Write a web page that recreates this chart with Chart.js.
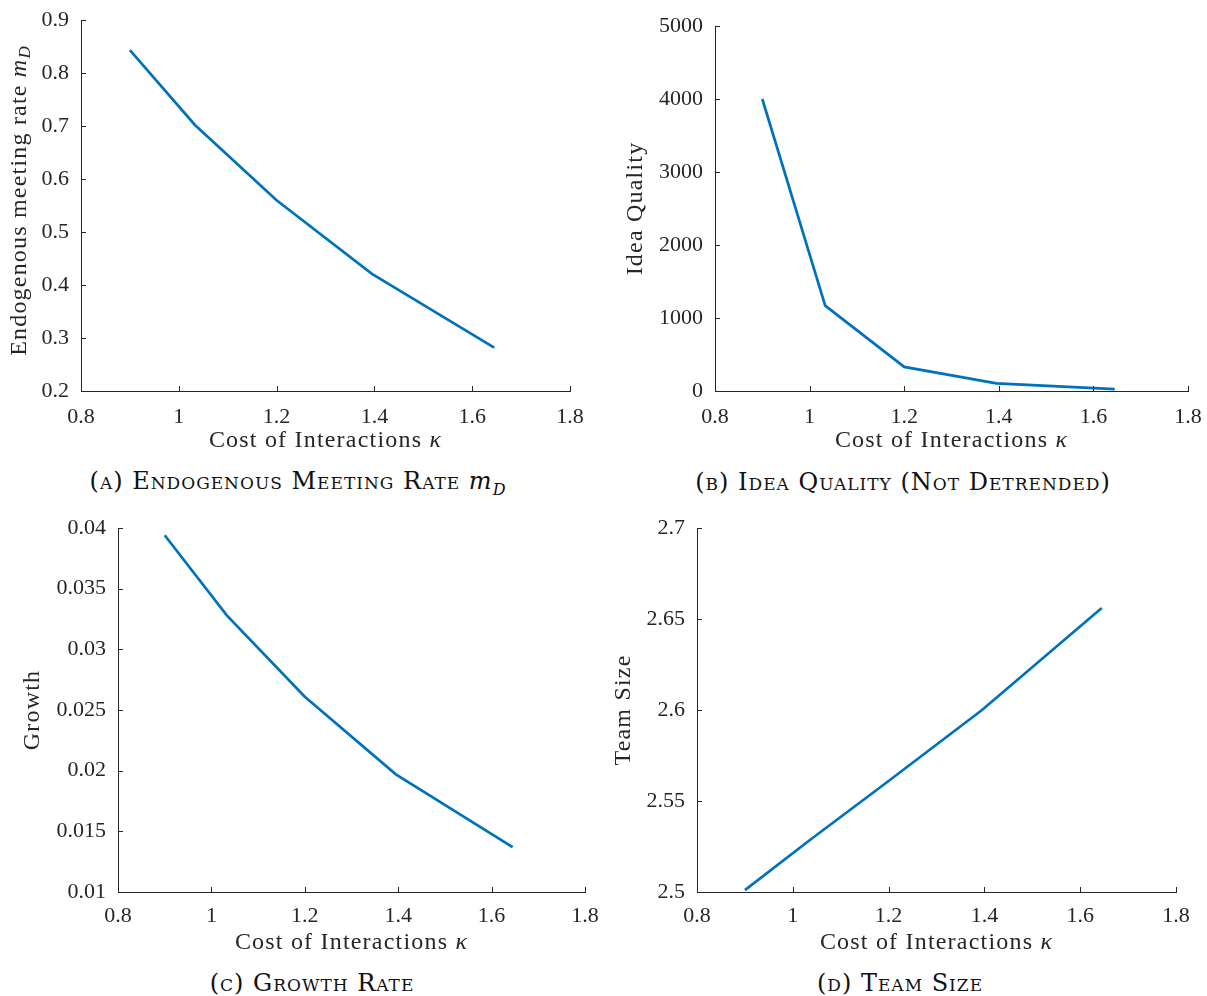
<!DOCTYPE html>
<html>
<head>
<meta charset="utf-8">
<script src="https://cdn.jsdelivr.net/npm/chart.js@4"></script>
<style>
  body { margin: 0; background: #fff; }
  #page { position: relative; width: 1207px; height: 996px; overflow: hidden; }
  .panel { position: absolute; }
  .caption {
    position: absolute;
    font-family: "DejaVu Serif", serif;
    font-size: 24px;
    letter-spacing: 1px;
    font-variant: small-caps;
    color: #111;
    white-space: nowrap;
    transform: translate(-50%, -50%);
  }
  .caption i { font-variant: normal; }
  .caption sub { font-size: 16px; font-variant: normal; font-style: italic; }
</style>
</head>
<body>
<div id="page">
  <div class="panel" style="left:0;top:0;width:600px;height:460px"><canvas id="chartA"></canvas></div>
  <div class="panel" style="left:600px;top:0;width:607px;height:460px"><canvas id="chartB"></canvas></div>
  <div class="panel" style="left:0;top:500px;width:600px;height:460px"><canvas id="chartC"></canvas></div>
  <div class="panel" style="left:600px;top:500px;width:607px;height:460px"><canvas id="chartD"></canvas></div>
  <div class="caption" style="left:298px;top:483px">(a) Endogenous Meeting Rate <i>m</i><sub>D</sub></div>
  <div class="caption" style="left:903px;top:482px">(b) Idea Quality (Not Detrended)</div>
  <div class="caption" style="left:312px;top:983px">(c) Growth Rate</div>
  <div class="caption" style="left:900px;top:983px">(d) Team Size</div>
</div>
<script>
// data
const kappa = [0.9, 1.033, 1.2, 1.395, 1.645];
const meetingRate = [0.843, 0.702, 0.560, 0.421, 0.282];
const ideaQuality = [4000, 1170, 330, 105, 27];
const growthRate = [0.0394, 0.0328, 0.0261, 0.0197, 0.0137];
const teamSize = [2.501, 2.528, 2.561, 2.600, 2.656];

// tick labels
const kappaTicks = [0.8, 1, 1.2, 1.4, 1.6, 1.8];
const meetingTicks = [0.2, 0.3, 0.4, 0.5, 0.6, 0.7, 0.8, 0.9];
const qualityTicks = [0, 1000, 2000, 3000, 4000, 5000];
const growthTicks = [0.01, 0.015, 0.02, 0.025, 0.03, 0.035, 0.04];
const teamTicks = [2.5, 2.55, 2.6, 2.65, 2.7];

const FONT = "Liberation Serif";
const AXIS_COLOR = "#262626";
const LINE_COLOR = "#0072BD";

// draw a title made of plain / italic / subscript pieces
function drawRich(ctx, parts, x, y, rotate) {
  ctx.save();
  ctx.translate(x, y);
  if (rotate) ctx.rotate(-Math.PI / 2);
  ctx.fillStyle = AXIS_COLOR;
  ctx.textBaseline = "middle";
  ctx.textAlign = "left";
  ctx.letterSpacing = "1.2px";
  const fontOf = p => (p.italic ? "italic " : "") + (p.sub ? "17px " : "24px ") + FONT;
  let total = 0;
  parts.forEach(p => { ctx.font = fontOf(p); total += ctx.measureText(p.text).width; });
  let cx = -total / 2;
  parts.forEach(p => {
    ctx.font = fontOf(p);
    ctx.fillText(p.text, cx, p.sub ? 6 : 0);
    cx += ctx.measureText(p.text).width;
  });
  ctx.restore();
}

// inward ticks + axis titles, matlab style
const axesDecor = {
  id: "axesDecor",
  afterDraw(chart, args, opts) {
    const { ctx, chartArea } = chart;
    const xs = chart.scales.x, ys = chart.scales.y;
    ctx.save();
    ctx.strokeStyle = AXIS_COLOR;
    ctx.lineWidth = 1;
    ctx.beginPath();
    xs.ticks.forEach(t => {
      const px = Math.round(xs.getPixelForValue(t.value)) + 0.5;
      ctx.moveTo(px, chartArea.bottom);
      ctx.lineTo(px, chartArea.bottom - 5);
    });
    ys.ticks.forEach(t => {
      const py = Math.round(ys.getPixelForValue(t.value)) + 0.5;
      ctx.moveTo(chartArea.left, py);
      ctx.lineTo(chartArea.left + 5, py);
    });
    ctx.stroke();
    ctx.restore();
    const xTitle = [{ text: "Cost of Interactions " }, { text: "κ", italic: true }];
    drawRich(ctx, xTitle, (chartArea.left + chartArea.right) / 2, opts.xTitleY, false);
    const midY = (chartArea.top + chartArea.bottom) / 2 + (opts.yShift || 0);
    drawRich(ctx, opts.yTitle, opts.yTitleX, midY, true);
  }
};

function fmt(v) {
  return String(+v.toFixed(4));
}

function makeChart(id, ys, yTicks, box, yTitle) {
  const points = kappa.map((k, i) => ({ x: k, y: ys[i] }));
  return new Chart(document.getElementById(id), {
    type: "line",
    data: {
      datasets: [{
        data: points,
        borderColor: LINE_COLOR,
        borderWidth: 2.7,
        pointRadius: 0,
        tension: 0,
        fill: false
      }]
    },
    plugins: [axesDecor],
    options: {
      responsive: true,
      maintainAspectRatio: false,
      animation: false,
      events: [],
      layout: { padding: { top: box.top, right: box.right, left: 0, bottom: 0 } },
      plugins: {
        legend: { display: false },
        tooltip: { enabled: false },
        axesDecor: { yTitle: yTitle, yTitleX: box.yTitleX, xTitleY: box.xTitleY, yShift: box.yShift }
      },
      scales: {
        x: {
          type: "linear",
          min: kappaTicks[0],
          max: kappaTicks[kappaTicks.length - 1],
          afterBuildTicks: s => { s.ticks = kappaTicks.map(v => ({ value: v })); },
          afterFit: s => { s.height = box.xHeight; s.paddingLeft = 0; s.paddingRight = 0; },
          grid: { display: false, drawTicks: false },
          border: { display: true, color: AXIS_COLOR, width: 1 },
          ticks: {
            padding: box.tickPad,
            color: AXIS_COLOR,
            font: { family: FONT, size: 22 },
            maxRotation: 0,
            autoSkip: false,
            callback: v => fmt(v)
          }
        },
        y: {
          type: "linear",
          min: yTicks[0],
          max: yTicks[yTicks.length - 1],
          afterBuildTicks: s => { s.ticks = yTicks.map(v => ({ value: v })); },
          afterFit: s => { s.width = box.left; s.paddingTop = 0; s.paddingBottom = 0; },
          grid: { display: false, drawTicks: false },
          border: { display: true, color: AXIS_COLOR, width: 1 },
          ticks: {
            padding: 12,
            color: AXIS_COLOR,
            font: { family: FONT, size: 22 },
            autoSkip: false,
            callback: v => fmt(v)
          }
        }
      }
    }
  });
}

makeChart("chartA", meetingRate, meetingTicks,
  { top: 20, right: 30, left: 81, xHeight: 69, tickPad: 13, xTitleY: 441, yTitleX: 20, yShift: -5 },
  [{ text: "Endogenous meeting rate " }, { text: "m", italic: true }, { text: "D", italic: true, sub: true }]);

makeChart("chartB", ideaQuality, qualityTicks,
  { top: 26, right: 19, left: 115, xHeight: 69, tickPad: 13, xTitleY: 441, yTitleX: 36, yShift: 0 },
  [{ text: "Idea Quality" }]);

makeChart("chartC", growthRate, growthTicks,
  { top: 28, right: 15, left: 118, xHeight: 68, tickPad: 11, xTitleY: 443, yTitleX: 33, yShift: 0 },
  [{ text: "Growth" }]);

makeChart("chartD", teamSize, teamTicks,
  { top: 28, right: 31, left: 97, xHeight: 68, tickPad: 11, xTitleY: 443, yTitleX: 24, yShift: 0 },
  [{ text: "Team Size" }]);
</script>
</body>
</html>
